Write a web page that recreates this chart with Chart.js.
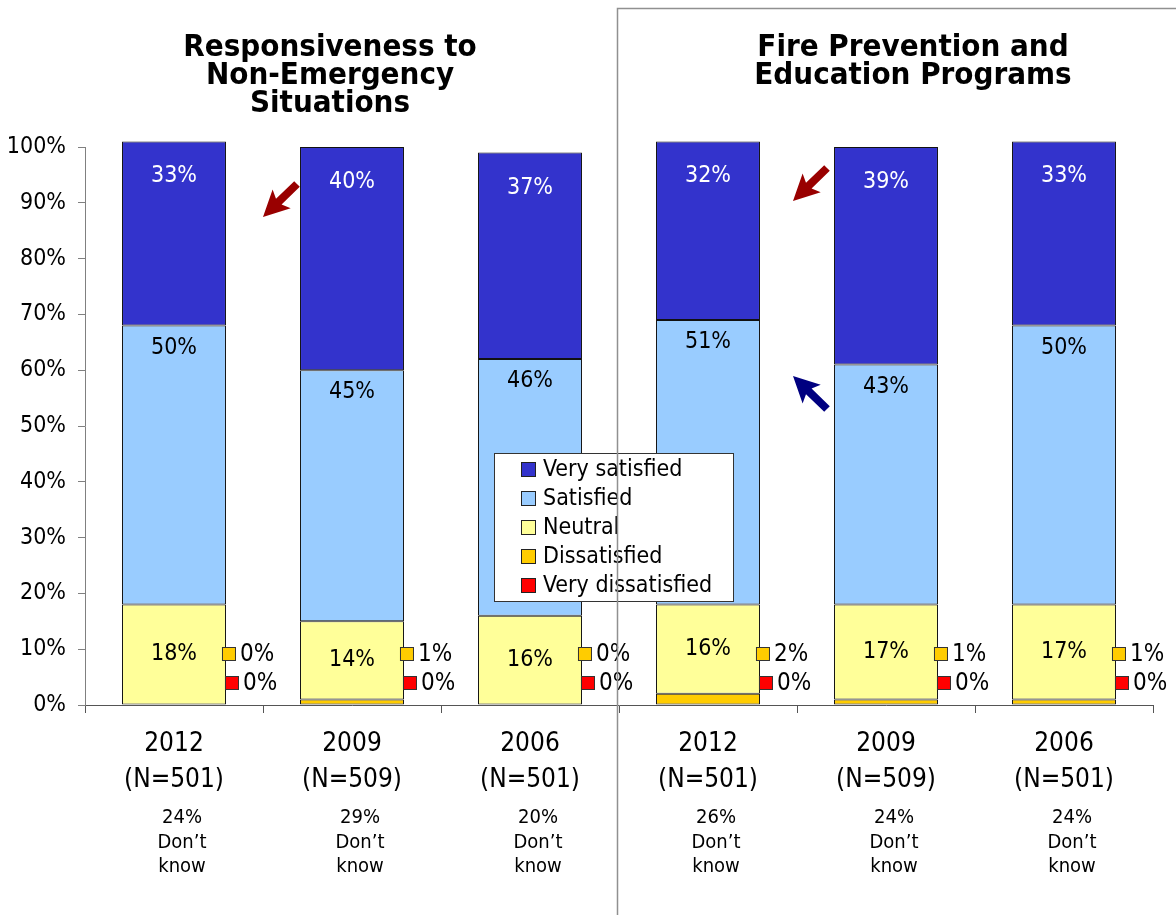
<!DOCTYPE html>
<html>
<head>
<meta charset="utf-8">
<script src="https://cdn.jsdelivr.net/npm/chart.js@4.4.1/dist/chart.umd.min.js"></script>
<style>
  html, body { margin: 0; padding: 0; background: #fff; }
  canvas { display: block; }
</style>
</head>
<body>
<canvas id="satisfactionChart" width="1176" height="915"></canvas>
<script>
// survey results (percent)
const categories = [['2012', '(N=501)'], ['2009', '(N=509)'], ['2006', '(N=501)'],
                    ['2012', '(N=501)'], ['2009', '(N=509)'], ['2006', '(N=501)']];
const veryDissatisfied = [0, 0, 0, 0, 0, 0];
const dissatisfied = [0, 1, 0, 2, 1, 1];
const neutral = [18, 14, 16, 16, 17, 17];
const satisfied = [50, 45, 46, 51, 43, 50];
const verySatisfied = [33, 40, 37, 32, 39, 33];
const dontKnow = [24, 29, 20, 26, 24, 24];
const groupTitles = [['Responsiveness to', 'Non-Emergency', 'Situations'],
                     ['Fire Prevention and', 'Education Programs']];
const yTicks = [0, 10, 20, 30, 40, 50, 60, 70, 80, 90, 100];

const FONT = 'Tahoma, "DejaVu Sans Condensed", "DejaVu Sans", sans-serif';
Chart.defaults.font.family = FONT;
Chart.defaults.color = '#000';

// draws a thick block arrow from tail to tip
function drawArrow(ctx, x1, y1, x2, y2, color) {
    const ang = Math.atan2(y2 - y1, x2 - x1);
    const len = Math.hypot(x2 - x1, y2 - y1);
    const headLen = 22, headW = 13, shaftW = 4;
    ctx.save();
    ctx.translate(x1, y1);
    ctx.rotate(ang);
    ctx.beginPath();
    ctx.moveTo(0, -shaftW);
    ctx.lineTo(len - headLen, -shaftW);
    ctx.lineTo(len - headLen - 4, -headW);
    ctx.lineTo(len, 0);
    ctx.lineTo(len - headLen - 4, headW);
    ctx.lineTo(len - headLen, shaftW);
    ctx.lineTo(0, shaftW);
    ctx.closePath();
    ctx.fillStyle = color;
    ctx.fill();
    ctx.restore();
}

const overlay = {
    id: 'overlay',
    afterDatasetsDraw(chart) {
        const ctx = chart.ctx;
        const area = chart.chartArea;
        const x = chart.scales.x;
        ctx.save();

        // values inside the bars
        ctx.font = '23px ' + FONT;
        ctx.textAlign = 'center';
        ctx.textBaseline = 'middle';
        [2, 3, 4].forEach(di => {
            const meta = chart.getDatasetMeta(di);
            const ds = chart.data.datasets[di];
            meta.data.forEach((bar, i) => {
                let ty;
                if (di === 4) ty = bar.y + 35;
                else if (di === 3) ty = bar.y + 22;
                else ty = (bar.y + bar.base) / 2;
                ctx.fillStyle = di === 4 ? '#fff' : '#000';
                ctx.fillText(ds.data[i] + '%', bar.x, ty);
            });
        });

        // little keyed labels for the two dissatisfied series
        ctx.font = '24px ' + FONT;
        ctx.textAlign = 'left';
        const small = [[1, area.bottom - 51, 3], [0, area.bottom - 22, 6]];
        small.forEach(([di, sy, dx]) => {
            const meta = chart.getDatasetMeta(di);
            const ds = chart.data.datasets[di];
            meta.data.forEach((bar, i) => {
                const cx = bar.x + bar.width / 2 + dx;
                ctx.fillStyle = ds.backgroundColor;
                ctx.fillRect(cx - 7, sy - 7, 14, 14);
                ctx.strokeStyle = '#333';
                ctx.lineWidth = 1;
                ctx.strokeRect(cx - 6.5, sy - 6.5, 13, 13);
                ctx.fillStyle = '#000';
                ctx.fillText(ds.data[i] + '%', cx + 11, sy + 1);
            });
        });

        // "don't know" notes under the axis labels
        ctx.font = '20px ' + FONT;
        ctx.textAlign = 'center';
        dontKnow.forEach((v, i) => {
            const cx = x.getPixelForValue(i) + 8;
            ctx.fillText(v + '%', cx, 818);
            ctx.fillText('Don\u2019t', cx, 843);
            ctx.fillText('know', cx, 867);
        });

        // arrows
        drawArrow(ctx, 297, 184, 263, 217, '#990000');
        drawArrow(ctx, 827, 168, 793, 201, '#990000');
        drawArrow(ctx, 827, 409, 793, 376, '#000080');

        // legend box
        const lx = 494, ly = 453, lw = 239, lh = 148;
        ctx.fillStyle = '#fff';
        ctx.fillRect(lx, ly, lw, lh);
        ctx.strokeStyle = '#333';
        ctx.lineWidth = 1;
        ctx.strokeRect(lx + 0.5, ly + 0.5, lw, lh);
        ctx.font = '23px ' + FONT;
        ctx.textAlign = 'left';
        const items = chart.data.datasets.slice().reverse();
        items.forEach((ds, k) => {
            const cy = ly + 16 + k * 29;
            ctx.fillStyle = ds.backgroundColor;
            ctx.fillRect(521, cy - 7, 15, 15);
            ctx.strokeStyle = '#222';
            ctx.strokeRect(521.5, cy - 6.5, 14, 14);
            ctx.fillStyle = '#000';
            ctx.fillText(ds.label, 543, cy + 1);
        });

        // panel titles
        ctx.font = 'bold 31px ' + FONT;
        ctx.textAlign = 'center';
        ctx.textBaseline = 'alphabetic';
        const centers = [330, 913];
        groupTitles.forEach((lines, g) => {
            lines.forEach((t, k) => ctx.fillText(t, centers[g], 56 + k * 28));
        });

        // frame around the second panel
        ctx.strokeStyle = '#909090';
        ctx.lineWidth = 1.5;
        ctx.beginPath();
        ctx.moveTo(617.5, 915);
        ctx.lineTo(617.5, 8.5);
        ctx.lineTo(1176, 8.5);
        ctx.stroke();

        ctx.restore();
    }
};

const borderW = c => (c.raw === 0 ? 0 : 1);

new Chart(document.getElementById('satisfactionChart'), {
    type: 'bar',
    data: {
        labels: categories,
        datasets: [
            { label: 'Very dissatisfied', data: veryDissatisfied, backgroundColor: '#FF0000' },
            { label: 'Dissatisfied', data: dissatisfied, backgroundColor: '#FFCC00' },
            { label: 'Neutral', data: neutral, backgroundColor: '#FFFF99' },
            { label: 'Satisfied', data: satisfied, backgroundColor: '#99CCFF' },
            { label: 'Very satisfied', data: verySatisfied, backgroundColor: '#3333CC' }
        ].map(ds => Object.assign(ds, {
            borderColor: '#111',
            borderWidth: borderW,
            borderSkipped: false,
            categoryPercentage: 1,
            barPercentage: 0.584,
            clip: false
        }))
    },
    options: {
        responsive: false,
        animation: false,
        devicePixelRatio: 1,
        layout: { padding: { top: 147, right: 23, left: 0, bottom: 0 } },
        plugins: {
            legend: { display: false },
            tooltip: { enabled: false }
        },
        scales: {
            x: {
                stacked: true,
                grid: { offset: true, drawOnChartArea: false, tickLength: 8, color: '#555' },
                border: { color: '#555' },
                ticks: {
                    font: { size: 26, lineHeight: 1.38 },
                    color: '#000',
                    padding: 13,
                    maxRotation: 0,
                    autoSkip: false
                },
                afterFit: s => { s.height = 210; }
            },
            y: {
                stacked: true,
                min: 0,
                max: 100,
                afterBuildTicks: s => { s.ticks = yTicks.map(v => ({ value: v })); },
                ticks: {
                    callback: v => v + '%',
                    font: { size: 23 },
                    color: '#000',
                    padding: 12
                },
                grid: { drawOnChartArea: false, tickLength: 7, color: '#808080' },
                border: { color: '#808080' },
                afterFit: s => { s.width = 85; }
            }
        }
    },
    plugins: [overlay]
});
</script>
</body>
</html>
